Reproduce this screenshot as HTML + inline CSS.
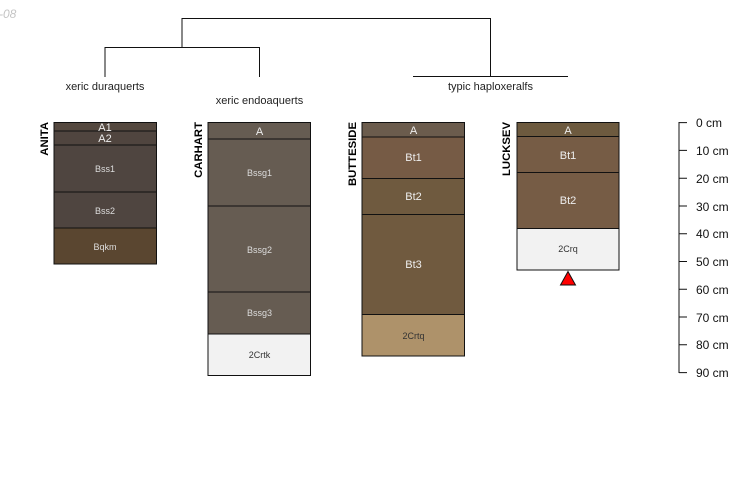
<!DOCTYPE html>
<html><head><meta charset="utf-8"><style>
html,body{margin:0;padding:0;background:#fff}
svg{display:block}
text{font-family:"Liberation Sans",sans-serif}
.h{fill:#eee;font-size:11px;text-anchor:middle}
.s{fill:#ddd;font-size:9px;text-anchor:middle}
.d{fill:#333;font-size:9px;text-anchor:middle}
.t{fill:#222;font-size:11px;text-anchor:middle}
.n{fill:#000;font-size:11.300px;font-weight:bold;text-anchor:end}
.c{fill:#111;font-size:12px}
</style></head><body>
<svg width="750" height="500" viewBox="0 0 750 500" xmlns="http://www.w3.org/2000/svg">
<rect width="750" height="500" fill="#fff"/>
<text x="-1" y="18" font-size="12" font-style="italic" fill="#c4c4c4">-08</text>
<g fill="none" stroke="#111" stroke-width="1">
<path d="M182 47V18.500H490.500V76"/>
<path d="M105 77V47.500H259.500V77"/>
<path d="M413 76.500H568"/>
</g>
<text class="t" x="105" y="90">xeric duraquerts</text>
<text class="t" x="259.500" y="104">xeric endoaquerts</text>
<text class="t" x="490.500" y="90">typic haploxeralfs</text>
<g stroke="#111" stroke-width="1">
<rect x="54" y="122.500" width="102.500" height="8.500" fill="#54483f"/>
<rect x="54" y="131" width="102.500" height="14" fill="#50453f"/>
<rect x="54" y="145" width="102.500" height="47" fill="#4f4540"/>
<rect x="54" y="192" width="102.500" height="36" fill="#4f4540"/>
<rect x="54" y="228" width="102.500" height="36" fill="#5a4630"/>
<rect x="208" y="122.500" width="102.500" height="16.500" fill="#665c52"/>
<rect x="208" y="139" width="102.500" height="67" fill="#665c52"/>
<rect x="208" y="206" width="102.500" height="86" fill="#665c52"/>
<rect x="208" y="292" width="102.500" height="42" fill="#665c52"/>
<rect x="208" y="334" width="102.500" height="41.500" fill="#f2f2f2"/>
<rect x="362" y="122.500" width="102.500" height="14.500" fill="#6b5c4d"/>
<rect x="362" y="137" width="102.500" height="41.500" fill="#765b45"/>
<rect x="362" y="178.500" width="102.500" height="36" fill="#6f5a3f"/>
<rect x="362" y="214.500" width="102.500" height="100" fill="#705a3f"/>
<rect x="362" y="314.500" width="102.500" height="41.500" fill="#ae926a"/>
<rect x="517" y="122.500" width="102" height="14" fill="#6d5a3f"/>
<rect x="517" y="136.500" width="102" height="36" fill="#765c45"/>
<rect x="517" y="172.500" width="102" height="56" fill="#765c45"/>
<rect x="517" y="228.500" width="102" height="41.500" fill="#f2f2f2"/>
</g>
<text class="h" x="105" y="131">A1</text>
<text class="h" x="105" y="142">A2</text>
<text class="s" x="105" y="172">Bss1</text>
<text class="s" x="105" y="214">Bss2</text>
<text class="s" x="105" y="250">Bqkm</text>
<text class="h" x="259.500" y="135">A</text>
<text class="s" x="259.500" y="176">Bssg1</text>
<text class="s" x="259.500" y="253">Bssg2</text>
<text class="s" x="259.500" y="316">Bssg3</text>
<text class="d" x="259.500" y="358">2Crtk</text>
<text class="h" x="413.500" y="134">A</text>
<text class="h" x="413.500" y="161">Bt1</text>
<text class="h" x="413.500" y="200">Bt2</text>
<text class="h" x="413.500" y="268">Bt3</text>
<text class="d" x="413.500" y="339">2Crtq</text>
<text class="h" x="568" y="134">A</text>
<text class="h" x="568" y="159">Bt1</text>
<text class="h" x="568" y="204">Bt2</text>
<text class="d" x="568" y="252">2Crq</text>
<text class="n" transform="translate(48,122) rotate(-90)">ANITA</text>
<text class="n" transform="translate(202,122) rotate(-90)">CARHART</text>
<text class="n" transform="translate(356,122) rotate(-90)">BUTTESIDE</text>
<text class="n" transform="translate(510,122) rotate(-90)">LUCKSEV</text>
<polygon points="568,271.500 560.500,285 575.500,285" fill="#f00" stroke="#111" stroke-width="1"/>
<g fill="none" stroke="#111" stroke-width="1">
<path d="M679 122V373"/>
<path d="M679 122.600H687M679 150.400H687M679 178.200H687M679 206H687M679 233.700H687M679 261.500H687M679 289.300H687M679 317H687M679 344.800H687M679 372.600H687"/>
</g>
<text class="c" x="696" y="127">0 cm</text>
<text class="c" x="696" y="155">10 cm</text>
<text class="c" x="696" y="183">20 cm</text>
<text class="c" x="696" y="211">30 cm</text>
<text class="c" x="696" y="238">40 cm</text>
<text class="c" x="696" y="266">50 cm</text>
<text class="c" x="696" y="294">60 cm</text>
<text class="c" x="696" y="322">70 cm</text>
<text class="c" x="696" y="349">80 cm</text>
<text class="c" x="696" y="377">90 cm</text>
</svg>
</body></html>
